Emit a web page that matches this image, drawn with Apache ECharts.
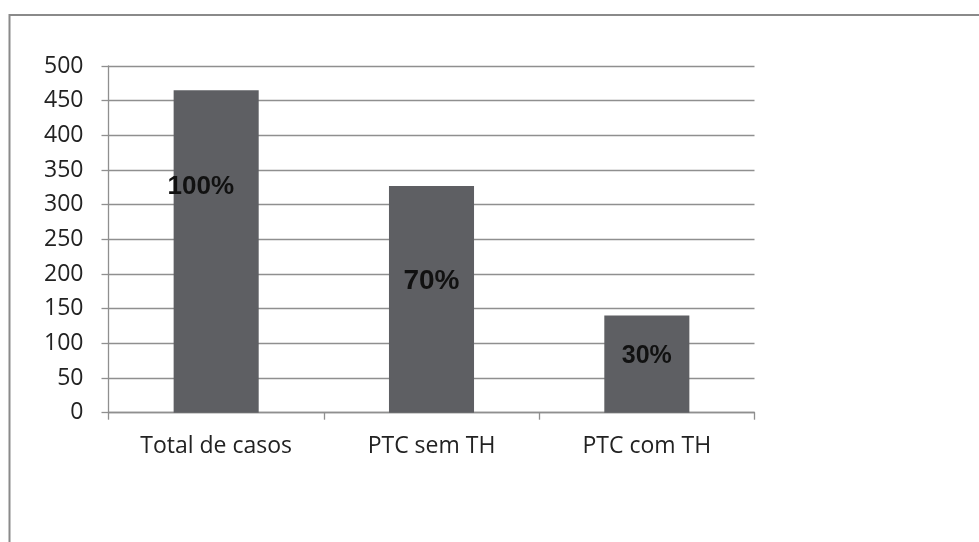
<!DOCTYPE html>
<html>
<head>
<meta charset="utf-8">
<style>html,body{margin:0;padding:0;background:#fff;}#chart{width:979px;height:542px;}</style>
<script src="https://cdn.jsdelivr.net/npm/echarts@6/dist/echarts.min.js"></script>
</head>
<body>
<div id="chart"></div>
<script>
const categories = ['Total de casos', 'PTC sem TH', 'PTC com TH'];
const casos = [465, 327, 140];
const percentLabels = ['100%', '70%', '30%'];
const yTicks = { min: 0, max: 500, interval: 50 };

const labelStyles = [
  { position: ['32%', '30%'], fontSize: 26 },
  { position: ['50%', '42%'], fontSize: 28 },
  { position: ['50%', '42%'], fontSize: 25 }
];

const chart = echarts.init(document.getElementById('chart'));
chart.setOption({
  animation: false,
  backgroundColor: '#ffffff',
  graphic: [{
    type: 'rect',
    shape: { x: 9.5, y: 15, width: 1100, height: 700 },
    style: { fill: 'none', stroke: '#8a8a8a', lineWidth: 2 },
    silent: true
  }],
  grid: { left: 108.5, right: 224.5, top: 66, bottom: 129.3, containLabel: false },
  xAxis: {
    type: 'category',
    data: categories,
    boundaryGap: true,
    axisLine: { show: true, lineStyle: { color: '#8f8f8f', width: 1.3 } },
    axisTick: { show: true, length: 7, lineStyle: { color: '#8f8f8f', width: 1.3 } },
    axisLabel: { fontFamily: 'Open Sans', fontSize: 23, color: '#222222', margin: 22 }
  },
  yAxis: {
    type: 'value',
    min: yTicks.min, max: yTicks.max, interval: yTicks.interval,
    axisLine: { show: true, lineStyle: { color: '#8f8f8f', width: 1.3 } },
    axisTick: { show: true, length: 7, lineStyle: { color: '#8f8f8f', width: 1.3 } },
    splitLine: { show: true, lineStyle: { color: '#8f8f8f', width: 1.3 } },
    axisLabel: { fontFamily: 'Open Sans', fontSize: 23, color: '#222222', margin: 25 }
  },
  series: [{
    type: 'bar',
    barWidth: '39.5%',
    itemStyle: { color: '#5e5f63' },
    data: casos.map((v, i) => ({
      value: v,
      label: {
        show: true,
        formatter: percentLabels[i],
        position: labelStyles[i].position,
        align: 'center',
        verticalAlign: 'middle',
        fontFamily: 'Liberation Sans',
        fontWeight: 'bold',
        fontSize: labelStyles[i].fontSize,
        color: '#111111'
      }
    }))
  }]
});
</script>
</body>
</html>
